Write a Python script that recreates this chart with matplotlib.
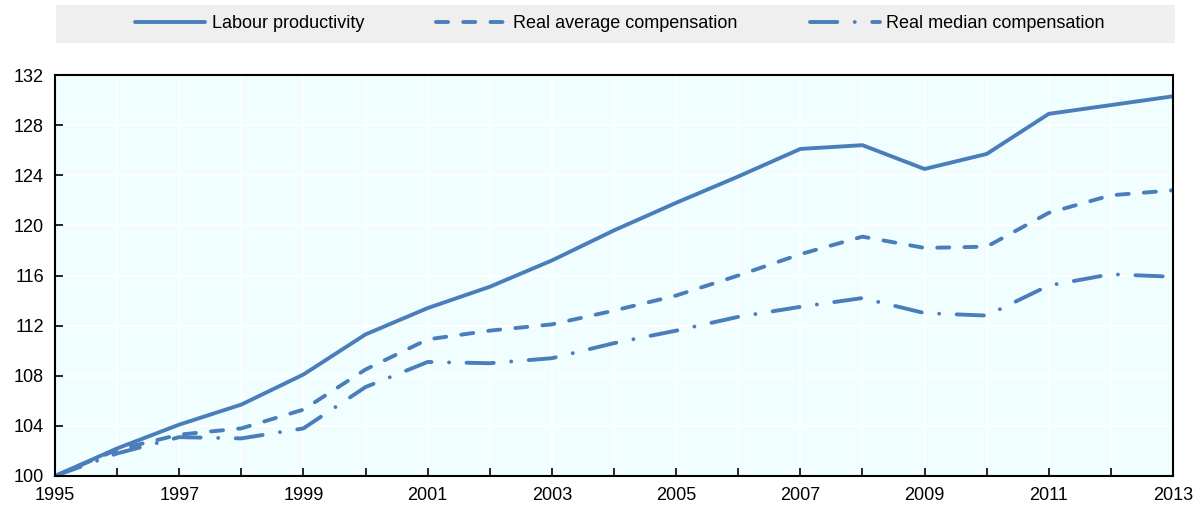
import matplotlib
matplotlib.use("Agg")
import matplotlib.pyplot as plt
from matplotlib.patches import Rectangle

years = list(range(1995, 2014))
labour_productivity = [100.0, 102.2, 104.1, 105.7, 108.1, 111.3, 113.4, 115.1, 117.2, 119.6,
                       121.8, 123.9, 126.1, 126.4, 124.5, 125.7, 128.9, 129.6, 130.3]
real_average_comp = [100.0, 102.1, 103.3, 103.8, 105.3, 108.5, 110.9, 111.6, 112.1, 113.2,
                     114.4, 116.0, 117.7, 119.1, 118.2, 118.3, 121.0, 122.4, 122.8]
real_median_comp = [100.0, 101.8, 103.1, 103.0, 103.8, 107.1, 109.1, 109.0, 109.4, 110.6,
                    111.6, 112.7, 113.5, 114.2, 113.0, 112.8, 115.2, 116.1, 115.9]
series_names = ["Labour productivity", "Real average compensation", "Real median compensation"]
y_ticks = list(range(100, 133, 4))
x_label_years = list(range(1995, 2014, 2))

plt.rcParams['font.family'] = ['Liberation Sans', 'DejaVu Sans']

color = "#4A7EBB"
W, H = 1200, 505
fig = plt.figure(figsize=(W / 100, H / 100), dpi=100)
ax = fig.add_axes([55 / W, (H - 476) / H, (1173 - 55) / W, (476 - 75) / H])
ax.set_facecolor("#F1FEFF")

lw = 2.8
l1, = ax.plot(years, labour_productivity, color=color, lw=lw, solid_capstyle='round',
              solid_joinstyle='round', label=series_names[0])
l2, = ax.plot(years, real_average_comp, color=color, lw=lw, dashes=(3.1, 3.9),
              dash_capstyle='round', label=series_names[1])
l3, = ax.plot(years, real_median_comp, color=color, lw=lw, dashes=(7.0, 4.5, 0.01, 4.5),
              dash_capstyle='round', label=series_names[2])

ax.set_xlim(1995, 2013)
ax.set_ylim(100, 132)
ax.set_yticks(y_ticks)
ax.set_xticks(years)
ax.set_xticklabels([str(y) if y in x_label_years else "" for y in years])
ax.grid(True, color="white", lw=1.2)
ax.set_axisbelow(True)
ax.tick_params(direction='in', length=6, width=1.2, labelsize=13, color='black')
ax.tick_params(axis='x', pad=8)
ax.tick_params(axis='y', pad=8)
for s in ax.spines.values():
    s.set_color('black')
    s.set_linewidth(1.5)

fig.patches.append(Rectangle((56 / W, (H - 43) / H), (1175 - 56) / W, 38 / H,
                             transform=fig.transFigure, facecolor="#EFEFEF",
                             edgecolor='none', zorder=0))
fig.legend(handles=[l1, l2, l3], loc='center', bbox_to_anchor=(620 / W, (H - 24) / H),
           ncol=3, frameon=False, fontsize=13, handlelength=3.9, columnspacing=4.0,
           handletextpad=0.35)

fig.savefig("out.png", dpi=100)
